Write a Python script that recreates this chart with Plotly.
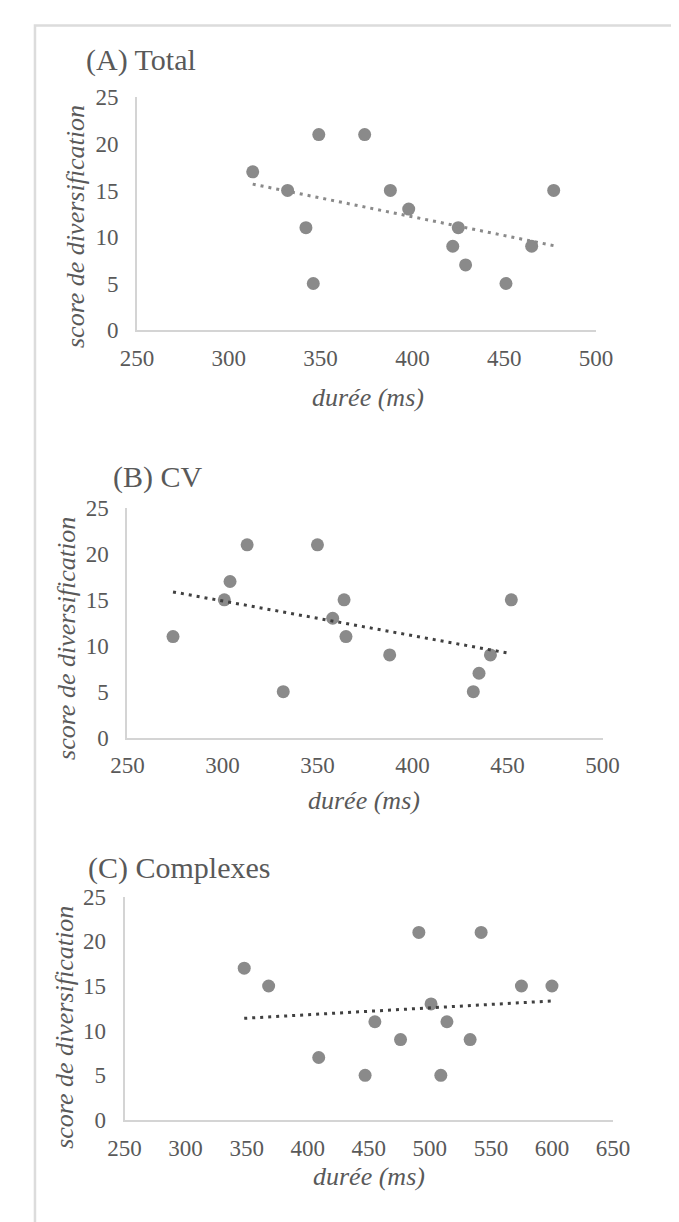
import numpy as np
import plotly.graph_objects as go

W, H = 679, 1222

# ---- data ----
titles = ["(A) Total", "(B) CV", "(C) Complexes"]

total_duree = [313, 332, 342, 346, 349, 374, 388, 398, 422, 425, 429, 451, 465, 477]
total_score = [17, 15, 11, 5, 21, 21, 15, 13, 9, 11, 7, 5, 9, 15]

cv_duree = [274, 301, 304, 313, 332, 350, 358, 364, 365, 388, 432, 435, 441, 452]
cv_score = [11, 15, 17, 21, 5, 21, 13, 15, 11, 9, 5, 7, 9, 15]

cx_duree = [348, 368, 409, 447, 455, 476, 491, 501, 509, 514, 533, 542, 575, 600]
cx_score = [17, 15, 7, 5, 11, 9, 21, 13, 5, 11, 9, 21, 15, 15]

x_ticks_ab = [250, 300, 350, 400, 450, 500]
x_ticks_c = [250, 300, 350, 400, 450, 500, 550, 600, 650]
y_ticks = [0, 5, 10, 15, 20, 25]

x_title = "durée (ms)"
y_title = "score de diversification"

# ---- styling ----
FONT = "Liberation Serif, Times New Roman, serif"
TXT = "#595959"
MARK = "#8a8a8a"
AXL = "#d4d4d4"

# panel boxes in pixels: (left, right, top, bottom)
boxes = [(118, 601, 79, 316.5), (107.8, 608, 498.3, 732.5), (104.8, 619, 895, 1123)]
trend_colors = [MARK, "#404040", "#404040"]
title_pos = [(62, 41), (91, 467), (64, 866)]
ytitle_pos = [(53, 211), (43, 631), (42, 1028)]
xtitle_pos = [(361, 385), (357, 797), (362, 1181)]
datasets = [(total_duree, total_score, x_ticks_ab),
            (cv_duree, cv_score, x_ticks_ab),
            (cx_duree, cx_score, x_ticks_c)]


def px(x):
    return x / W


def py(y):
    return 1 - y / H


fig = go.Figure()
annotations = []
for i, ((xs, ys, xt), (l, r, t, b)) in enumerate(zip(datasets, boxes)):
    n = "" if i == 0 else str(i + 1)
    xa, ya = "x" + n, "y" + n
    fig.add_trace(go.Scatter(x=xs, y=ys, mode="markers", xaxis=xa, yaxis=ya,
                             marker=dict(size=13, color=MARK), showlegend=False,
                             hoverinfo="skip"))
    k, c0 = np.polyfit(xs, ys, 1)
    tx = np.array([min(xs), max(xs)], dtype=float)
    fig.add_trace(go.Scatter(x=tx, y=k * tx + c0, mode="lines", xaxis=xa, yaxis=ya,
                             line=dict(color=trend_colors[i], width=3, dash="3px,5px"),
                             showlegend=False, hoverinfo="skip"))
    axis_common = dict(showgrid=False, zeroline=False, showline=True, linecolor=AXL,
                       linewidth=2, ticks="", tickfont=dict(family=FONT, size=23, color=TXT))
    fig.update_layout(**{
        "xaxis" + n: dict(domain=[px(l), px(r)], range=[xt[0], xt[-1]], tickvals=xt,
                          anchor=ya, ticklabelstandoff=6, **axis_common),
        "yaxis" + n: dict(domain=[py(b), py(t)], range=[0, 25], tickvals=y_ticks,
                          anchor=xa, ticklabelstandoff=12, **axis_common),
    })
    tx_, ty_ = title_pos[i]
    annotations.append(dict(text=titles[i], x=px(tx_), y=py(ty_), xref="paper", yref="paper",
                            xanchor="left", yanchor="middle", showarrow=False,
                            font=dict(family=FONT, size=30, color=TXT)))
    yx, yy = ytitle_pos[i]
    annotations.append(dict(text=y_title, x=px(yx), y=py(yy), xref="paper", yref="paper",
                            xanchor="center", yanchor="middle", showarrow=False, textangle=-90,
                            font=dict(family=FONT, size=26, color=TXT, style="italic")))
    xx, xy = xtitle_pos[i]
    annotations.append(dict(text=x_title, x=px(xx), y=py(xy), xref="paper", yref="paper",
                            xanchor="center", yanchor="middle", showarrow=False,
                            font=dict(family=FONT, size=26, color=TXT, style="italic")))

fig.update_layout(
    width=W, height=H, margin=dict(l=0, r=0, t=0, b=0),
    paper_bgcolor="white", plot_bgcolor="white",
    annotations=annotations,
    shapes=[dict(type="rect", xref="paper", yref="paper", x0=px(10.5), y0=py(1240),
                 x1=px(700), y1=py(5.5), line=dict(color="#dcdcdc", width=2.5), layer="below")],
)

fig.write_html("out.html")
